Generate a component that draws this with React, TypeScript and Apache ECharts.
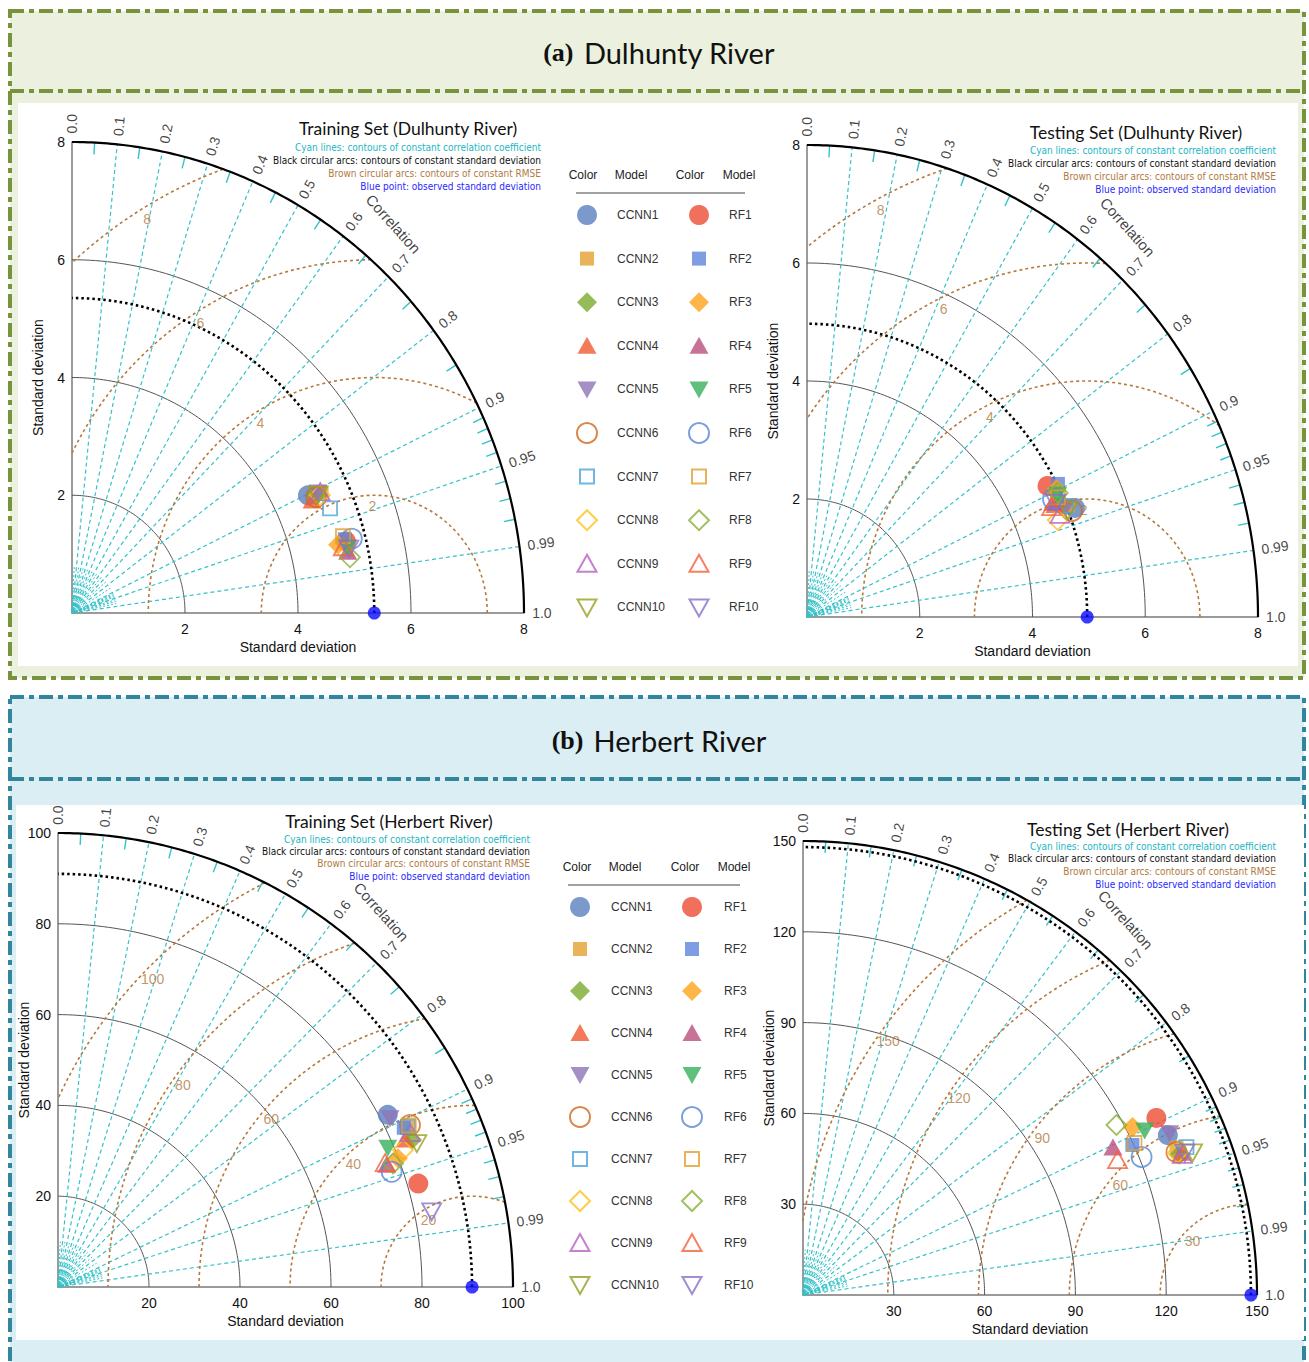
import React, { useEffect, useRef } from 'react';
import * as echarts from 'echarts';

const PAGE_W = 1309;
const PAGE_H = 1362;

// ---------------- models ----------------
const CCNN_MODELS = ['CCNN1', 'CCNN2', 'CCNN3', 'CCNN4', 'CCNN5', 'CCNN6', 'CCNN7', 'CCNN8', 'CCNN9', 'CCNN10'];
const RF_MODELS = ['RF1', 'RF2', 'RF3', 'RF4', 'RF5', 'RF6', 'RF7', 'RF8', 'RF9', 'RF10'];

// ---------------- correlation grid ----------------
const CORR_LINES = [0.1, 0.2, 0.3, 0.4, 0.5, 0.6, 0.7, 0.8, 0.9, 0.95, 0.99];
const CORR_MINOR = [0.05, 0.15, 0.25, 0.35, 0.45, 0.55, 0.65, 0.75, 0.85, 0.91, 0.92, 0.93, 0.94, 0.96, 0.97, 0.98];
const CORR_LABELS = [0.0, 0.1, 0.2, 0.3, 0.4, 0.5, 0.6, 0.7, 0.8, 0.9, 0.95, 0.99, 1.0];

// ---------------- Dulhunty River ----------------
const dulhuntyTrainObsSD = 5.35;
const dulhuntyTrainCcnnSD = [4.63, 4.87, 4.76, 4.66, 4.81, 4.75, 4.9, 4.82, 4.85, 4.79];
const dulhuntyTrainCcnnR = [0.902, 0.907, 0.908, 0.912, 0.905, 0.91, 0.932, 0.91, 0.906, 0.908];
const dulhuntyTrainRfSD = [5.0, 4.99, 4.85, 4.99, 5.0, 5.11, 4.97, 5.01, 4.93, 5.02];
const dulhuntyTrainRfR = [0.97, 0.968, 0.971, 0.978, 0.975, 0.969, 0.965, 0.982, 0.974, 0.976];
const dulhuntyTrainRmse = [2, 4, 6, 8];

const dulhuntyTestObsSD = 4.97;
const dulhuntyTestCcnnSD = [5.1, 5.0, 4.91, 4.79, 4.95, 5.03, 4.96, 4.74, 4.81, 4.97];
const dulhuntyTestCcnnR = [0.932, 0.926, 0.92, 0.918, 0.927, 0.934, 0.925, 0.938, 0.933, 0.931];
const dulhuntyTestRfSD = [4.81, 4.99, 4.93, 4.77, 4.91, 4.8, 4.89, 4.92, 4.72, 4.82];
const dulhuntyTestRfR = [0.887, 0.892, 0.898, 0.914, 0.906, 0.909, 0.91, 0.904, 0.919, 0.916];
const dulhuntyTestRmse = [2, 4, 6, 8];

// ---------------- Herbert River ----------------
const herbertTrainObsSD = 91;
const herbertTrainCcnnSD = [81.8, 84.4, 84.3, 82.9, 81.9, 85.2, 84.6, 81.6, 84.5, 85.0];
const herbertTrainCcnnR = [0.886, 0.909, 0.923, 0.92, 0.891, 0.908, 0.909, 0.929, 0.916, 0.928];
const herbertTrainRfSD = [82.4, 83.7, 79.9, 77.1, 78.7, 77.6, 84.9, 78.5, 76.9, 83.8];
const herbertTrainRfR = [0.961, 0.908, 0.935, 0.937, 0.921, 0.945, 0.908, 0.938, 0.935, 0.98];
const herbertTrainRmse = [20, 40, 60, 80, 100];

const herbertTestObsSD = 148;
const herbertTestCcnnSD = [131.6, 132.7, 132.7, 133.6, 132.4, 132.1, 135.8, 132.4, 133.6, 137.1];
const herbertTestCcnnR = [0.916, 0.93, 0.937, 0.936, 0.915, 0.934, 0.933, 0.935, 0.938, 0.939];
const herbertTestRfSD = [130.6, 119.6, 122.2, 113.4, 125.3, 120.8, 120.5, 117.8, 113.1, 134.6];
const herbertTestRfR = [0.894, 0.91, 0.891, 0.903, 0.901, 0.926, 0.909, 0.879, 0.919, 0.937];
const herbertTestRmse = [30, 60, 90, 120, 150];

// ---------------- texts ----------------
const NOTE_LINES = [
  'Cyan lines: contours of constant correlation coefficient',
  'Black circular arcs: contours of constant standard deviation',
  'Brown circular arcs: contours of constant RMSE',
  'Blue point: observed standard deviation',
];
const NOTE_COLORS = ['#22b6c4', '#111111', '#b07a42', '#2a2aff'];
const LEGEND_HEADERS = ['Color', 'Model', 'Color', 'Model'];

// ---------------- marker styles ----------------
const MODEL_SHAPES = ['circle', 'square', 'diamond', 'up', 'down', 'circle', 'square', 'diamond', 'up', 'down'];
const MODEL_FILLED = [true, true, true, true, true, false, false, false, false, false];
const CCNN_COLORS = ['#5b7fbf', '#e3a12f', '#7aab30', '#f05a30', '#8e74b7', '#d2691e', '#4ea2db', '#ffc21a', '#b562bf', '#97a020'];
const RF_COLORS = ['#ee4c33', '#5f84db', '#ffa31a', '#b9507d', '#37b05e', '#5a87d6', '#e0a030', '#8ab03a', '#f5603a', '#8a70c8'];

// every path shares a 20x20 box so squares/triangles keep their relative size
const SYMBOLS: Record<string, string> = {
  circle: 'circle',
  square: 'path://M0 0M20 20M3 3L17 3L17 17L3 17Z',
  diamond: 'path://M0 0M20 20M10 0L20 10L10 20L0 10Z',
  up: 'path://M0 0M20 20M10 1L19.5 18L0.5 18Z',
  down: 'path://M0 0M20 20M0.5 2L19.5 2L10 19Z',
};

const FONT = "'Liberation Sans', Arial, sans-serif";
const NARROW = "'Liberation Sans Narrow', 'Arial Narrow', 'DejaVu Sans Condensed', 'Liberation Sans', sans-serif";
const TITLE_FONT = "Lato, 'Open Sans', sans-serif";

const CYAN = '#35c2c9';
const BROWN = '#b5793c';

interface PanelCfg {
  title: string;
  titlePos: [number, number];
  notePos: [number, number];
  noteStep: number;
  grid: { left: number; top: number; width: number; height: number };
  max: number;
  interval: number;
  obs: number;
  rmse: number[];
  rmseAngles: number[];
  ccnnSD: number[];
  ccnnR: number[];
  rfSD: number[];
  rfR: number[];
}

const PANELS: PanelCfg[] = [
  {
    title: 'Training Set (Dulhunty River)', titlePos: [408, 128], notePos: [541, 147], noteStep: 13,
    grid: { left: 72, top: 142, width: 452, height: 471 }, max: 8, interval: 2,
    obs: dulhuntyTrainObsSD, rmse: dulhuntyTrainRmse, rmseAngles: [91, 122, 122, 121],
    ccnnSD: dulhuntyTrainCcnnSD, ccnnR: dulhuntyTrainCcnnR, rfSD: dulhuntyTrainRfSD, rfR: dulhuntyTrainRfR,
  },
  {
    title: 'Testing Set (Dulhunty River)', titlePos: [1136, 132], notePos: [1276, 150], noteStep: 13.3,
    grid: { left: 807, top: 145, width: 451, height: 472 }, max: 8, interval: 2,
    obs: dulhuntyTestObsSD, rmse: dulhuntyTestRmse, rmseAngles: [92, 117, 116, 118],
    ccnnSD: dulhuntyTestCcnnSD, ccnnR: dulhuntyTestCcnnR, rfSD: dulhuntyTestRfSD, rfR: dulhuntyTestRfR,
  },
  {
    title: 'Training Set (Herbert River)', titlePos: [389, 821], notePos: [530, 839], noteStep: 12.4,
    grid: { left: 58, top: 833, width: 455, height: 454 }, max: 100, interval: 20,
    obs: herbertTrainObsSD, rmse: herbertTrainRmse, rmseAngles: [123, 134, 140, 145, 136],
    ccnnSD: herbertTrainCcnnSD, ccnnR: herbertTrainCcnnR, rfSD: herbertTrainRfSD, rfR: herbertTrainRfR,
  },
  {
    title: 'Testing Set (Herbert River)', titlePos: [1128, 829], notePos: [1276, 846], noteStep: 12.7,
    grid: { left: 803, top: 841, width: 454, height: 454 }, max: 150, interval: 30,
    obs: herbertTestObsSD, rmse: herbertTestRmse, rmseAngles: [137, 140, 143, 146, 145],
    ccnnSD: herbertTestCcnnSD, ccnnR: herbertTestCcnnR, rfSD: herbertTestRfSD, rfR: herbertTestRfR,
  },
];

const DEG = Math.PI / 180;

// Taylor-diagram point: radius = standard deviation, angle = arccos(correlation)
function toXY(sd: number, r: number): [number, number] {
  const t = Math.acos(Math.max(-1, Math.min(1, r)));
  return [sd * Math.cos(t), sd * Math.sin(t)];
}

function arcPoints(cx: number, radius: number, a0: number, a1: number, n = 120): number[][] {
  const pts: number[][] = [];
  for (let k = 0; k <= n; k++) {
    const a = a0 + ((a1 - a0) * k) / n;
    pts.push([cx + radius * Math.cos(a), Math.max(0, radius * Math.sin(a))]);
  }
  return pts;
}

// RMSE circle around the observed point, kept inside the quarter disc
function rmseArc(obs: number, R: number, max: number): number[][] | null {
  let a0 = 0;
  let a1 = Math.PI;
  const c = (max * max - obs * obs - R * R) / (2 * obs * R);
  if (c < 1) a0 = Math.acos(Math.max(-1, c));
  if (R > obs) a1 = Math.acos(-obs / R);
  if (a0 >= a1) return null;
  return arcPoints(obs, R, a0, a1);
}

function linesSeries(i: number, coordsList: number[][][], lineStyle: any, z = 1) {
  return {
    type: 'lines',
    coordinateSystem: 'cartesian2d',
    xAxisIndex: i,
    yAxisIndex: i,
    polyline: true,
    silent: true,
    z,
    data: coordsList.map((c) => ({ coords: c })),
    lineStyle: { opacity: 1, curveness: 0, ...lineStyle },
  };
}

function labelSeries(i: number, items: any[], label: any, z = 3) {
  return {
    type: 'scatter',
    xAxisIndex: i,
    yAxisIndex: i,
    silent: true,
    clip: false,
    symbol: 'circle',
    symbolSize: 0,
    z,
    label: { show: true, position: [0, 0], formatter: '{b}', fontFamily: FONT, ...label },
    data: items,
  };
}

function fmtCorr(v: number): string {
  return v === 0 || v === 1 ? v.toFixed(1) : String(v);
}

function panelSeries(p: PanelCfg, i: number): any[] {
  const M = p.max;
  const sx = p.grid.width / M;
  const sy = p.grid.height / M;
  const screenDeg = (x: number, y: number) => Math.atan2(y * sy, x * sx) / DEG;
  const out: any[] = [];

  // standard-deviation arcs
  const inner: number[][][] = [];
  for (let v = p.interval; v < M - 1e-9; v += p.interval) inner.push(arcPoints(0, v, 0, Math.PI / 2, 90));
  out.push(linesSeries(i, inner, { color: '#555555', width: 1 }));
  out.push(linesSeries(i, [arcPoints(0, M, 0, Math.PI / 2, 180)], { color: '#000000', width: 2.2 }, 2));

  // correlation rays and ticks
  out.push(linesSeries(i, CORR_LINES.map((r) => [[0, 0], toXY(M, r)]), { color: CYAN, width: 1.2, type: [4, 3] }));
  out.push(linesSeries(i, CORR_MINOR.map((r) => [[0, 0], toXY(M * 0.1, r)]), { color: CYAN, width: 1, type: [2, 2] }));
  out.push(linesSeries(i, CORR_MINOR.map((r) => [toXY(M * 0.975, r), toXY(M, r)]), { color: CYAN, width: 1.4 }));

  // RMSE arcs
  const rm: number[][][] = [];
  p.rmse.forEach((R) => {
    const a = rmseArc(p.obs, R, M);
    if (a) rm.push(a);
  });
  out.push(linesSeries(i, rm, { color: BROWN, width: 1.6, type: [3, 3] }));

  // observed standard deviation arc
  out.push(linesSeries(i, [arcPoints(0, p.obs, 0, Math.PI / 2, 120)], { color: '#000000', width: 2.6, type: [2.5, 3] }, 2));

  // correlation labels around the outer arc
  out.push(
    labelSeries(
      i,
      CORR_LABELS.map((r) => {
        const [x, y] = toXY(M * 1.018, r);
        return { name: fmtCorr(r), value: [x, y], label: { rotate: screenDeg(x, y) } };
      }),
      { align: 'left', verticalAlign: 'middle', fontSize: 14, color: '#111111' },
    ),
  );
  const [cx, cy] = toXY(M * 1.09, Math.cos(49.3 * DEG));
  out.push(
    labelSeries(i, [{ name: 'Correlation', value: [cx, cy], label: { rotate: -48 } }], {
      align: 'center', verticalAlign: 'middle', fontSize: 15, color: '#111111',
    }),
  );

  // RMSE labels
  out.push(
    labelSeries(
      i,
      p.rmse.map((R, k) => {
        const phi = p.rmseAngles[k] * DEG;
        const x = p.obs + R * Math.cos(phi);
        const y = R * Math.sin(phi);
        return { name: String(R), value: [x, y], label: { offset: [-11 * Math.cos(phi), 11 * Math.sin(phi)] } };
      }),
      { align: 'center', verticalAlign: 'middle', fontSize: 14, color: '#b07a42' },
    ),
  );

  // observed point
  out.push({
    type: 'scatter', xAxisIndex: i, yAxisIndex: i, clip: false, silent: true, z: 6,
    symbol: 'circle', symbolSize: 13, itemStyle: { color: '#0a0aff' },
    data: [[p.obs, 0]],
  });

  // model points
  const addModels = (names: string[], sds: number[], rs: number[], colors: string[]) => {
    names.forEach((name, k) => {
      const filled = MODEL_FILLED[k];
      out.push({
        type: 'scatter',
        name,
        xAxisIndex: i,
        yAxisIndex: i,
        clip: false,
        z: 5,
        symbol: SYMBOLS[MODEL_SHAPES[k]],
        symbolSize: 20,
        itemStyle: filled
          ? { color: colors[k], borderWidth: 0 }
          : { color: 'rgba(255,255,255,0)', borderColor: colors[k], borderWidth: 1.8 },
        emphasis: { disabled: true },
        data: [toXY(sds[k], rs[k])],
      });
    });
  };
  addModels(CCNN_MODELS, p.ccnnSD, p.ccnnR, CCNN_COLORS);
  addModels(RF_MODELS, p.rfSD, p.rfR, RF_COLORS);
  return out;
}

function axis(p: PanelCfg, i: number, isX: boolean) {
  return {
    gridIndex: i,
    type: 'value',
    min: 0,
    max: p.max,
    interval: p.interval,
    axisLine: { show: true, onZero: false, lineStyle: { color: '#7a7a7a', width: 1.5 } },
    axisTick: { show: false },
    splitLine: { show: false },
    axisLabel: {
      fontSize: 14,
      color: '#111111',
      fontFamily: FONT,
      margin: isX ? 9 : 7,
      formatter: (v: number) => (v === 0 ? '' : String(v)),
    },
    name: 'Standard deviation',
    nameLocation: 'middle',
    nameGap: 27,
    nameMoveOverlap: false,
    nameTextStyle: { fontSize: 14, color: '#111111', fontFamily: FONT },
  };
}

const DASH = [14, 5, 5, 5];

function panelFrame(y: number, h: number, headerY: number, fill: string, stroke: string, inner: number[]) {
  return [
    {
      type: 'rect', z: -10, silent: true,
      shape: { x: 10, y, width: 1294, height: h },
      style: { fill, stroke, lineWidth: 4, lineDash: DASH },
    },
    {
      type: 'line', z: -9, silent: true,
      shape: { x1: 10, y1: headerY, x2: 1304, y2: headerY },
      style: { stroke, lineWidth: 4, lineDash: DASH },
    },
    {
      type: 'rect', z: -9, silent: true,
      shape: { x: inner[0], y: inner[1], width: inner[2], height: inner[3] },
      style: { fill: '#ffffff' },
    },
  ];
}

function panelHeading(tag: string, name: string, x: number, y: number) {
  return {
    type: 'text', x, y, z: 10, silent: true,
    style: {
      text: `{p|${tag}}{t|${name}}`,
      align: 'center',
      verticalAlign: 'middle',
      rich: {
        p: { fontFamily: "'Liberation Serif', 'Times New Roman', serif", fontWeight: 'bold', fontSize: 26, fill: '#111111', padding: [0, 10, 0, 0] },
        t: { fontFamily: TITLE_FONT, fontSize: 29, fill: '#111111' },
      },
    },
  };
}

function legendHeader(centers: number[], y: number, lineX: [number, number], lineY: number) {
  const items: any[] = LEGEND_HEADERS.map((t, k) => ({
    type: 'text', x: centers[k], y, z: 10, silent: true,
    style: { text: t, align: 'center', verticalAlign: 'middle', fontSize: 12, fontFamily: FONT, fill: '#222222' },
  }));
  items.push({
    type: 'line', z: 10, silent: true,
    shape: { x1: lineX[0], y1: lineY, x2: lineX[1], y2: lineY },
    style: { stroke: '#444444', lineWidth: 1.2 },
  });
  return items;
}

function buildOption(): any {
  const graphic: any[] = [
    ...panelFrame(11, 667, 91, '#ebf1de', '#77933c', [18, 103, 1280, 563]),
    ...panelFrame(697, 720, 779, '#daeef3', '#31859c', [16, 805, 1288, 535]),
    panelHeading('(a)', 'Dulhunty River', 659, 52),
    panelHeading('(b)', 'Herbert River', 659, 740),
    ...legendHeader([583, 631, 690, 739], 175, [576, 745], 193),
    ...legendHeader([577, 625, 685, 734], 867, [568, 740], 885),
  ];

  PANELS.forEach((p) => {
    graphic.push({
      type: 'text', x: p.titlePos[0], y: p.titlePos[1], z: 10, silent: true,
      style: { text: p.title, align: 'center', verticalAlign: 'middle', fontSize: 17.5, fontFamily: TITLE_FONT, fill: '#111111' },
    });
    NOTE_LINES.forEach((t, k) => {
      graphic.push({
        type: 'text', x: p.notePos[0], y: p.notePos[1] + k * p.noteStep, z: 10, silent: true,
        style: { text: t, align: 'right', verticalAlign: 'middle', fontSize: 10, fontFamily: NARROW, fill: NOTE_COLORS[k] },
      });
    });
  });

  // constant text box height keeps every legend row equally tall
  const legendText = (pad: number) => ({
    fontSize: 12, color: '#333333', fontFamily: FONT, height: 24, lineHeight: 24, padding: [0, 0, 0, pad],
  });
  const legendBase = {
    orient: 'vertical',
    itemWidth: 20,
    itemHeight: 20,
    padding: 0,
    selectedMode: false,
  };

  return {
    animation: false,
    backgroundColor: '#ffffff',
    grid: PANELS.map((p) => ({ ...p.grid, containLabel: false, show: false })),
    xAxis: PANELS.map((p, i) => axis(p, i, true)),
    yAxis: PANELS.map((p, i) => axis(p, i, false)),
    legend: [
      { ...legendBase, data: CCNN_MODELS, left: 576, top: 203, itemGap: 19.6, textStyle: legendText(15) },
      { ...legendBase, data: RF_MODELS, left: 688, top: 203, itemGap: 19.6, textStyle: legendText(15) },
      { ...legendBase, data: CCNN_MODELS, left: 569, top: 895, itemGap: 18, textStyle: legendText(16) },
      { ...legendBase, data: RF_MODELS, left: 681, top: 895, itemGap: 18, textStyle: legendText(17) },
    ],
    graphic,
    series: PANELS.flatMap((p, i) => panelSeries(p, i)),
  };
}

export default function App() {
  const ref = useRef<HTMLDivElement>(null);
  useEffect(() => {
    document.body.style.margin = '0';
    const chart = echarts.init(ref.current as HTMLDivElement, undefined, { renderer: 'svg' });
    chart.setOption(buildOption());
    return () => chart.dispose();
  }, []);
  return <div ref={ref} style={{ width: PAGE_W, height: PAGE_H }} />;
}
